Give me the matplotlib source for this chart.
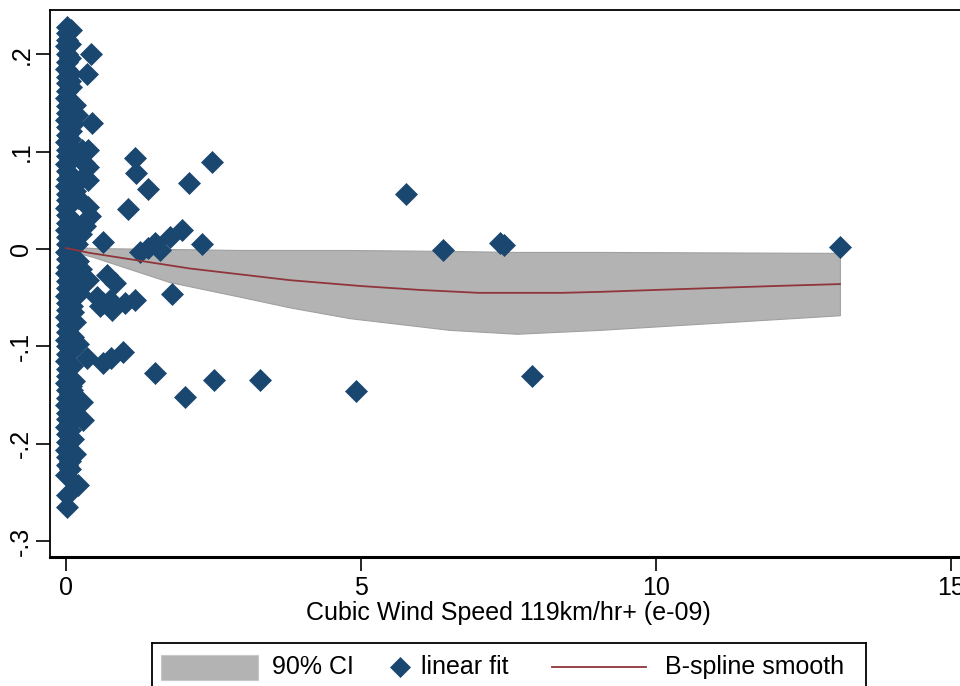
import matplotlib.pyplot as plt
from matplotlib.patches import Rectangle
from matplotlib.lines import Line2D

plt.rcParams['font.family'] = ['Liberation Sans', 'DejaVu Sans']

NAVY = '#1a476f'
MAROON = '#90353b'
GREY = '#b3b3b3'

# dense column of points at x ~ 0
col_x = [0.02, 0.01, 0.02, 0.00, 0.01, 0.02, 0.00, 0.01, 0.02, 0.01,
         0.00, 0.02, 0.01, 0.00, 0.02, 0.01, 0.00, 0.02, 0.01, 0.00,
         0.02, 0.01, 0.00, 0.02, 0.01, 0.00, 0.02, 0.01, 0.00, 0.02,
         0.01, 0.00, 0.02, 0.01, 0.00, 0.02, 0.01, 0.00, 0.02, 0.01,
         0.00, 0.02, 0.01, 0.00, 0.02, 0.01, 0.00, 0.02, 0.01, 0.00,
         0.02, 0.01, 0.00, 0.02, 0.01, 0.00, 0.02, 0.01, 0.00, 0.02,
         0.01, 0.00, 0.01, 0.02]
col_y = [0.228, 0.222, 0.215, 0.208, 0.200, 0.192, 0.185, 0.177, 0.170, 0.162,
         0.155, 0.147, 0.140, 0.132, 0.125, 0.117, 0.110, 0.102, 0.095, 0.087,
         0.080, 0.072, 0.065, 0.057, 0.050, 0.042, 0.035, 0.027, 0.020, 0.012,
         0.005, -0.003, -0.010, -0.018, -0.025, -0.033, -0.040, -0.048, -0.055, -0.063,
         -0.070, -0.078, -0.085, -0.093, -0.100, -0.108, -0.115, -0.123, -0.130, -0.138,
         -0.145, -0.153, -0.160, -0.168, -0.175, -0.183, -0.190, -0.198, -0.206, -0.214,
         -0.222, -0.232, -0.253, -0.265]

# second strand of the column, slightly to the right
col2_x = [0.06, 0.07, 0.06, 0.08, 0.06, 0.07, 0.09, 0.06, 0.08, 0.07,
          0.09, 0.06, 0.08, 0.10, 0.07, 0.09, 0.11, 0.08, 0.10, 0.07,
          0.09, 0.11, 0.08, 0.10, 0.07, 0.09, 0.06, 0.08, 0.07, 0.06,
          0.08, 0.07, 0.06, 0.07, 0.06, 0.08, 0.06, 0.07]
col2_y = [0.211, 0.196, 0.181, 0.166, 0.151, 0.136, 0.121, 0.106, 0.091, 0.076,
          0.061, 0.046, 0.031, 0.016, 0.001, -0.014, -0.029, -0.044, -0.059, -0.074,
          -0.089, -0.104, -0.119, -0.134, -0.149, -0.164, -0.179, -0.194, -0.209, -0.218,
          0.225, 0.173, 0.113, 0.068, -0.052, -0.141, -0.186, -0.226]

# points just right of the column
near_x = [0.15, 0.18, 0.12, 0.27, 0.22, 0.30, 0.29, 0.15, 0.20, 0.37,
          0.40, 0.33, 0.25, 0.18, 0.20, 0.25, 0.15, 0.22, 0.12, 0.15,
          0.12, 0.20, 0.10, 0.13, 0.10, 0.20, 0.15, 0.12, 0.15, 0.20,
          0.27, 0.29]
near_y = [0.148, 0.138, 0.128, 0.102, 0.095, 0.088, 0.074, 0.060, 0.052, 0.043,
          0.034, 0.024, 0.015, 0.005, -0.012, -0.020, -0.040, -0.045, -0.065, -0.075,
          -0.090, -0.098, -0.120, -0.135, -0.145, -0.160, -0.170, -0.195, -0.210, -0.242,
          -0.157, -0.176]

# scattered points further out
far_x = [0.42, 0.36, 0.44, 0.37, 0.37, 0.37, 1.17, 1.19, 1.39, 1.05,
         2.47, 2.08, 1.97, 1.76, 2.31, 0.63, 1.51, 1.25, 1.59, 1.39,
         0.37, 0.69, 0.83, 1.80, 0.63, 0.78, 1.00, 1.17, 0.75, 0.52,
         0.58, 0.97, 0.76, 0.63, 0.36, 1.51, 2.02, 2.51, 3.29, 5.76,
         6.39, 7.35, 7.42, 4.92, 7.90, 13.12]
far_y = [0.200, 0.180, 0.129, 0.102, 0.084, 0.071, 0.093, 0.078, 0.062, 0.041,
         0.089, 0.068, 0.020, 0.012, 0.005, 0.007, 0.006, -0.003, -0.001, 0.001,
         -0.032, -0.027, -0.035, -0.046, -0.055, -0.063, -0.055, -0.052, -0.052, -0.049,
         -0.058, -0.106, -0.112, -0.117, -0.112, -0.127, -0.152, -0.134, -0.134, 0.056,
         -0.001, 0.006, 0.004, -0.146, -0.130, 0.002]

# B-spline smooth
fit_x = [0.0, 0.4, 1.25, 2.1, 2.95, 3.8, 5.0, 6.0, 7.0, 8.4, 9.05, 10.0, 11.0, 12.0, 13.12]
fit_y = [0.001, -0.004, -0.012, -0.020, -0.026, -0.032, -0.038, -0.042, -0.045, -0.045,
         -0.044, -0.042, -0.040, -0.038, -0.036]

# 90% CI band
ci_x = [0.0, 0.45, 1.76, 2.95, 3.8, 4.81, 6.5, 7.64, 9.05, 13.12]
ci_lo = [-0.001, -0.008, -0.034, -0.049, -0.060, -0.071, -0.083, -0.087, -0.083, -0.068]
ci_hi = [0.003, 0.001, 0.000, -0.001, -0.001, -0.001, -0.002, -0.003, -0.003, -0.004]

xticks = [0, 5, 10, 15]
yticks = [-0.3, -0.2, -0.1, 0.0, 0.1, 0.2]
ytick_labels = ['-.3', '-.2', '-.1', '0', '.1', '.2']

fs = 18
fig = plt.figure(figsize=(9.6, 6.86), dpi=100)
ax = fig.add_axes([50/960, 129/686, 935/960, 547/686])

ax.fill_between(ci_x, ci_lo, ci_hi, color=GREY, edgecolor='#a0a0a0', lw=0.8, zorder=1)
ms = 11.5
all_x = col_x + col2_x + near_x + far_x
all_y = col_y + col2_y + near_y + far_y
ax.plot(all_x, all_y, 'D', color=NAVY, ms=ms, mec=NAVY, mew=0.5, ls='none', zorder=2)
ax.plot(fit_x, fit_y, color=MAROON, lw=1.3, zorder=3)

ax.set_xlim(-0.271, 15.58)
ax.set_ylim(-0.3162, 0.2454)
ax.set_xticks(xticks)
ax.set_xticklabels([str(t) for t in xticks])
ax.set_yticks(yticks)
ax.set_yticklabels(ytick_labels, rotation=90, va='center')
ax.tick_params(direction='out', length=10, width=1.2, labelsize=fs, colors='black')
ax.tick_params(axis='y', pad=2)
ax.tick_params(axis='x', pad=4)

for s in ['left', 'top', 'right']:
    ax.spines[s].set_linewidth(1.3)
ax.spines['bottom'].set_linewidth(2.2)

fig.text(508/960, 1 - 613/686, 'Cubic Wind Speed 119km/hr+ (e-09)', ha='center',
         va='center', fontsize=fs)

# legend box, drawn by hand so the keys keep Stata's spacing
lax = fig.add_axes([152/960, -10/686, 714/960, 53/686])
lax.set_xlim(0, 714)
lax.set_ylim(-10, 43)
lax.set_xticks([])
lax.set_yticks([])
for s in lax.spines.values():
    s.set_linewidth(1.3)
lax.add_patch(Rectangle((9, 6), 97, 25, facecolor=GREY, edgecolor='#c8c8c8', lw=0.8))
lax.text(120, 19, '90% CI', va='center', fontsize=fs)
lax.add_line(Line2D([248], [19], marker='D', color=NAVY, ms=ms * 0.85, mec=NAVY, mew=0.5))
lax.text(269, 19, 'linear fit', va='center', fontsize=fs)
lax.add_line(Line2D([400, 494], [19, 19], color=MAROON, lw=1.3))
lax.text(513, 19, 'B-spline smooth', va='center', fontsize=fs)

fig.savefig('out.png', dpi=100)
